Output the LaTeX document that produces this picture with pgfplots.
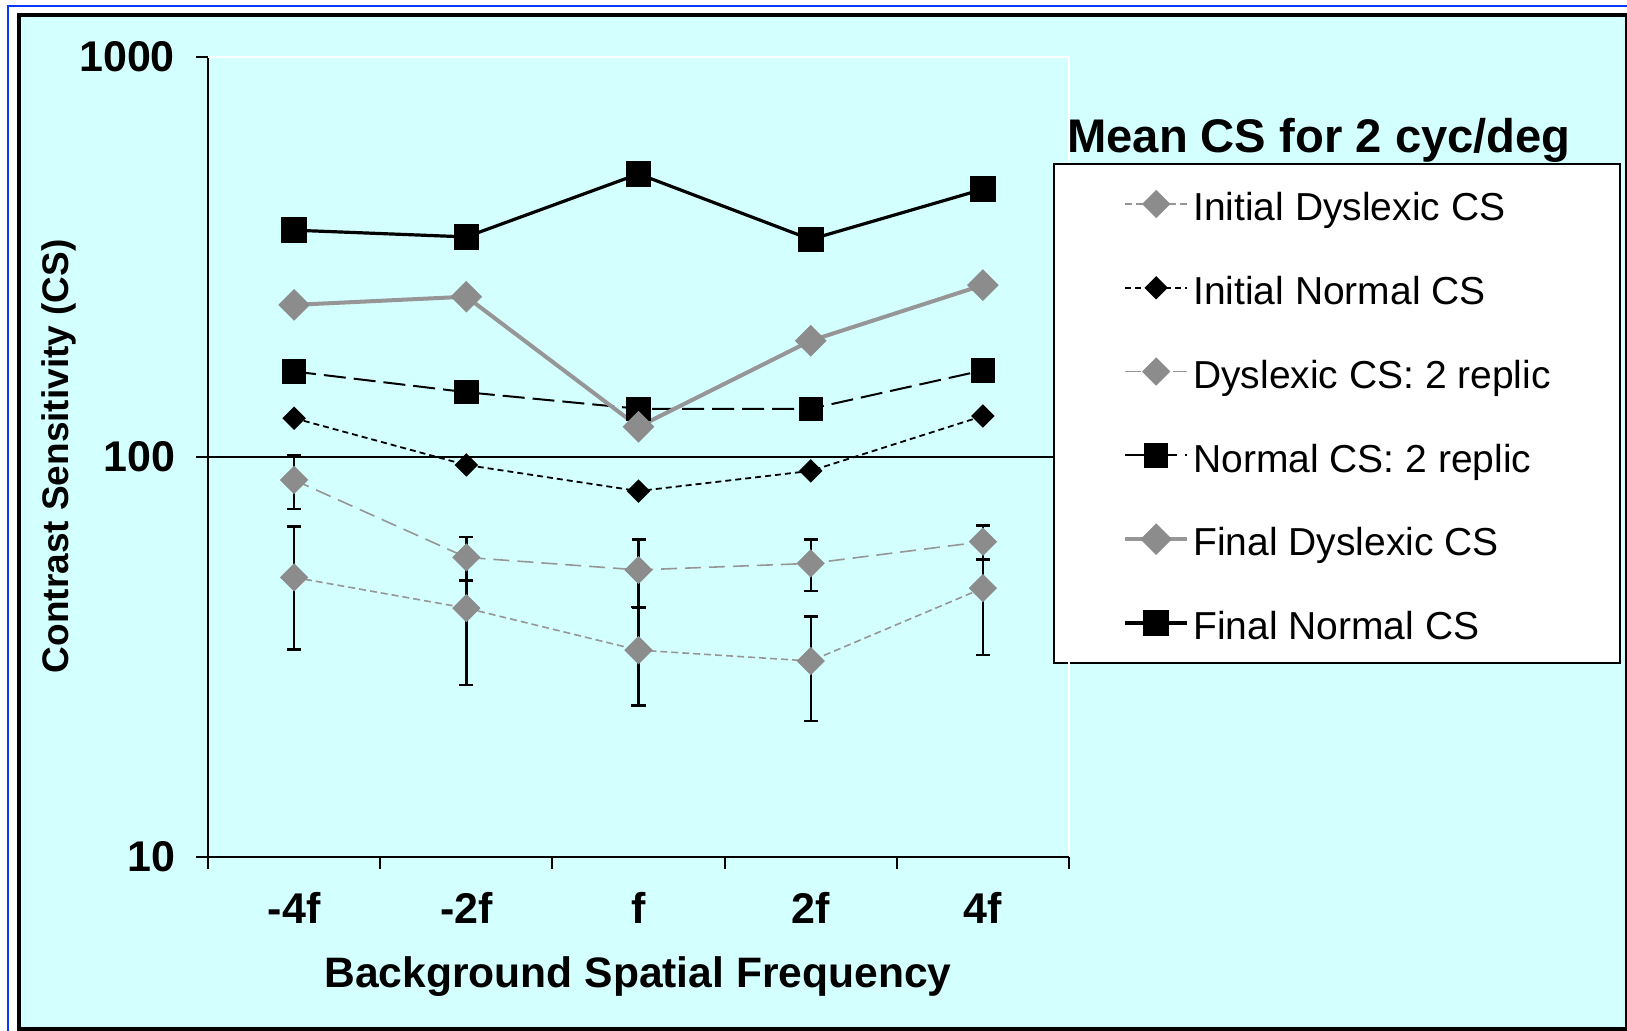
\documentclass[border=0pt]{standalone}
\usepackage{pgfplots}
\pgfplotsset{compat=1.18}
\usepackage{fontspec}
\setmainfont{Liberation Sans}

\definecolor{panel}{RGB}{212,255,255}
\definecolor{frameblue}{RGB}{10,55,255}
\definecolor{lgray}{RGB}{150,150,150}
\definecolor{mgray}{RGB}{140,140,140}

% pixel grid of the layout: axis origin sits at (208,857), 1 px = 0.5 pt
\newcommand{\px}[2]{({(#1-208)*0.5pt},{(857-#2)*0.5pt})}

% mean contrast sensitivity per background frequency (-4f, -2f, f, 2f, 4f)
\pgfplotstableread{
x  y     e
1  50.0  17
2  41.9  15
3  32.9  9
4  30.9  9
5  47.0  15
}\initdys
\pgfplotstableread{
x  y
1  125.0
2  95.5
3  82.2
4  92.3
5  126.6
}\initnorm
\pgfplotstableread{
x  y     e
1  87.6  13.5
2  56.1  7
3  52.2  10
4  54.2  8
5  61.4  6
}\repdys
\pgfplotstableread{
x  y
1  163.6
2  145.2
3  132.0
4  132.0
5  164.6
}\repnorm
\pgfplotstableread{
x  y
1  240.0
2  251.6
3  119.0
4  195.3
5  269.0
}\finaldys
\pgfplotstableread{
x  y
1  369
2  355
3  510
4  350
5  467
}\finalnorm

\begin{document}
\begin{tikzpicture}
\useasboundingbox \px{0}{1031} rectangle \px{1627}{0};
\begin{scope}
  \clip \px{0}{1031} rectangle \px{1627}{0};
  \fill[white] \px{0}{1031} rectangle \px{1627}{0};
  \draw[frameblue, line width=1pt] \px{8}{1045} rectangle \px{1645}{6};
  \filldraw[fill=panel, draw=black, line width=2pt] \px{18.7}{1029.5} rectangle \px{1627}{14.7};
\end{scope}

\begin{axis}[
  scale only axis,
  width=430.5pt, height=400pt,
  at={(0,0)}, anchor=south west,
  xmin=0.5, xmax=5.5,
  ymode=log, ymin=10, ymax=1000,
  axis x line*=bottom, axis y line*=left,
  axis line style={black, line width=1.1pt},
  tick align=outside,
  major tick length=6pt,
  tick style={black, line width=1pt},
  xtick={0.5,1.5,...,5.5},
  xticklabels={},
  extra x ticks={1,2,3,4,5},
  extra x tick labels={-4f,-2f,f,2f,4f},
  extra x tick style={major tick length=0pt},
  ytick={10,100,1000},
  yticklabels={10,100,1000},
  yminorticks=false,
  ymajorgrids,
  major grid style={black, line width=0.9pt},
  tick label style={font=\fontsize{21.5}{25}\selectfont\bfseries},
  xticklabel style={yshift=-14pt},
  yticklabel style={xshift=-7pt},
  xlabel={Background Spatial Frequency},
  ylabel={Contrast Sensitivity (CS)},
  every axis x label/.style={at={(axis description cs:0.4994,-0.149)}, anchor=center, font=\fontsize{21.3}{25}\selectfont\bfseries},
  every axis y label/.style={at={(axis description cs:-0.1731,0.501)}, anchor=center, rotate=90, font=\fontsize{18.5}{22}\selectfont\bfseries},
  clip=false,
  legend cell align=left,
  legend image code/.code={\draw[mark repeat=2,mark phase=2,#1] plot coordinates {(0pt,0pt) (15.5pt,0pt) (31pt,0pt)};},
  legend style={at={(axis description cs:0.98142,0.8675)}, anchor=north west,
    draw=black, line width=1pt, fill=white, inner sep=0pt,
    minimum width=283pt, minimum height=249.5pt,
    row sep=22.4pt, column sep=2pt,
    font=\fontsize{19.5}{22}\selectfont,
    nodes={inner sep=0pt, minimum width=0pt, minimum height=0pt, draw=none,
      text height=18.1pt, text depth=1.4pt, anchor=west}},
  errbar/.style={error bars/.cd, y dir=both, y explicit,
    error bar style={black, solid, line width=1.2pt},
    error mark options={black, solid, rotate=90, mark size=3.5pt, line width=1.2pt}},
]
\addplot[lgray, line width=0.8pt, dash pattern=on 3.5pt off 2pt,
  mark=square*, mark size=4.6pt, mark options={solid, rotate=45, draw=mgray, fill=mgray},
  errbar] table[x=x, y=y, y error=e] {\initdys};
\addlegendentry{Initial Dyslexic CS}
\addplot[black, line width=0.9pt, dash pattern=on 3pt off 2pt,
  mark=square*, mark size=3.7pt, mark options={solid, rotate=45, draw=black, fill=black}]
  table[x=x, y=y] {\initnorm};
\addlegendentry{Initial Normal CS}
\addplot[lgray, line width=0.8pt, dash pattern=on 8pt off 4pt,
  mark=square*, mark size=4.6pt, mark options={solid, rotate=45, draw=mgray, fill=mgray},
  errbar] table[x=x, y=y, y error=e] {\repdys};
\addlegendentry{Dyslexic CS: 2 replic}
\addplot[black, line width=1pt, dash pattern=on 11pt off 4pt,
  mark=square*, mark size=5.6pt, mark options={solid, draw=black, fill=black}]
  table[x=x, y=y] {\repnorm};
\addlegendentry{Normal CS: 2 replic}
\addplot[lgray, line width=2pt,
  mark=square*, mark size=4.6pt, mark options={solid, rotate=45, draw=mgray, fill=mgray}]
  table[x=x, y=y] {\finaldys};
\addlegendentry{Final Dyslexic CS}
\addplot[black, line width=1.6pt,
  mark=square*, mark size=5.6pt, mark options={solid, draw=black, fill=black}]
  table[x=x, y=y] {\finalnorm};
\addlegendentry{Final Normal CS}
\end{axis}

% plot area border, kept clear of the legend box
\draw[white, line width=1pt] \px{208}{57} -- \px{1069}{57} -- \px{1069}{163};
\draw[white, line width=1pt] \px{1069}{662} -- \px{1069}{855};
\node[font=\fontsize{23.6}{28}\selectfont\bfseries, anchor=center] at \px{1319}{140} {Mean CS for 2 cyc/deg};
\end{tikzpicture}
\end{document}
